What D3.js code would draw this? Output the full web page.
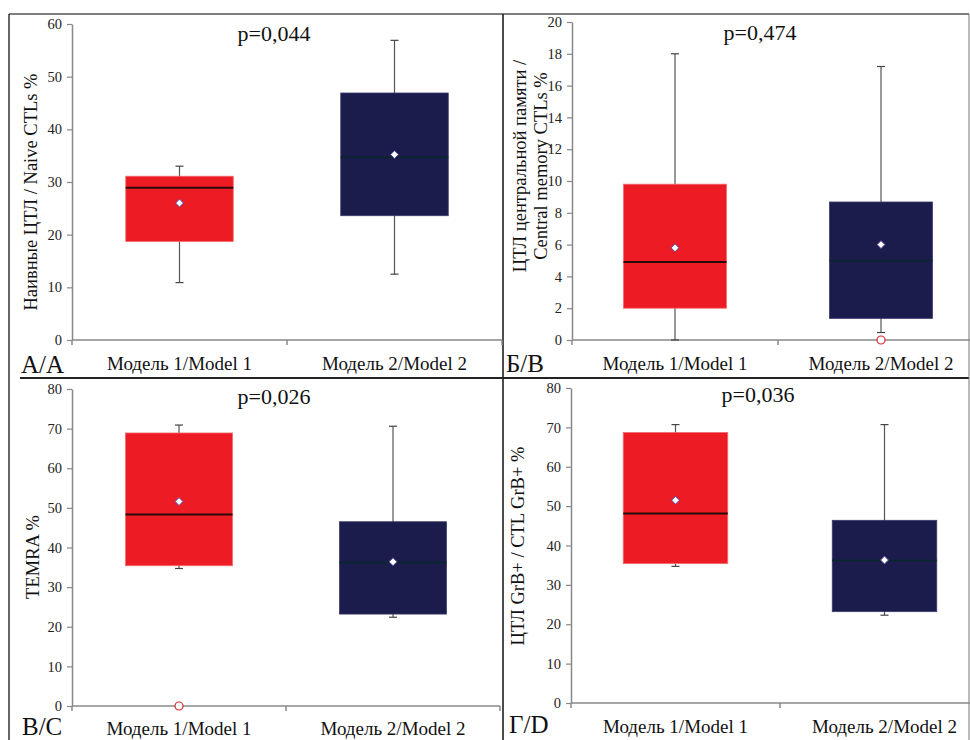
<!DOCTYPE html>
<html><head><meta charset="utf-8">
<script src="https://cdn.jsdelivr.net/npm/d3@7"></script>
<style>body{margin:0;background:#fff}svg{display:block}</style>
</head><body>
<script>
// ---- DATA ----
const categories = ["Модель 1/Model 1", "Модель 2/Model 2"];
const panelIds = ["A", "B", "C", "D"];
const panelLetters = ["А/A", "Б/B", "В/C", "Г/D"];
const pValues = ["p=0,044", "p=0,474", "p=0,026", "p=0,036"];
const yTitles = [["Наивные ЦТЛ / Naive CTLs %"], ["ЦТЛ центральной памяти /", "Central memory CTLs %"], ["TEMRA %"], ["ЦТЛ GrB+ / CTL GrB+ %"]];
const yMax = [60, 20, 80, 80];
const yStep = [10, 2, 10, 10];
// per panel: [model1, model2]
const whiskerLow  = [[10.9, 12.5], [0, 0.47], [34.7, 22.4], [34.7, 22.3]];
const q1Values    = [[18.7, 23.6], [2.0, 1.36], [35.4, 23.2], [35.4, 23.2]];
const medianValues= [[28.9, 34.7], [4.9, 5.0], [48.3, 36.2], [48.1, 36.2]];
const q3Values    = [[31.1, 46.9], [9.8, 8.68], [68.9, 46.5], [68.7, 46.4]];
const whiskerHigh = [[33.0, 56.9], [18.0, 17.2], [70.9, 70.6], [70.7, 70.7]];
const meanValues  = [[26.0, 35.2], [5.8, 6.0], [51.6, 36.4], [51.5, 36.3]];
const outliers    = [[[], []], [[], [0]], [[0], []], [[], []]];
const boxColors = ["#ed1c24", "#1c1c4c"];
const medianColors = ["#2a0b0b", "#0b2530"];

// ---- LAYOUT ----
const layout = [
  {x0: 72, x1: 502, yTop: 24, yBot: 340, titleX: [31], titleY: 192, pX: 274, pY: 41, catY: 370, letX: 21, letY: 373},
  {x0: 572, x1: 984, yTop: 22, yBot: 340, titleX: [520, 541], titleY: 166, pX: 760, pY: 40, catY: 370, letX: 506, letY: 372},
  {x0: 72, x1: 500, yTop: 389, yBot: 706, titleX: [33], titleY: 557, pX: 274, pY: 404, catY: 735, letX: 22, letY: 735},
  {x0: 571, x1: 989, yTop: 388, yBot: 703, titleX: [518], titleY: 546, pX: 758, pY: 402, catY: 733, letX: 509, letY: 733}
];

const W = 970, H = 740;
const FONT = "Liberation Serif";
const svg = d3.select("body").append("svg").attr("width", W).attr("height", H)
  .attr("font-family", FONT);

// frame lines
const frame = svg.append("g").attr("stroke", "#333").attr("fill", "none");
frame.append("line").attr("x1", 9).attr("x2", 969).attr("y1", 14).attr("y2", 14).attr("stroke-width", 1.5).attr("stroke", "#555");
frame.append("line").attr("x1", 9).attr("x2", 9).attr("y1", 14).attr("y2", 740).attr("stroke-width", 1.5);
frame.append("line").attr("x1", 503).attr("x2", 503).attr("y1", 14).attr("y2", 740).attr("stroke-width", 1.5).attr("stroke", "#111");
frame.append("line").attr("x1", 20).attr("x2", 969).attr("y1", 378).attr("y2", 378).attr("stroke-width", 2).attr("stroke", "#222");
frame.append("line").attr("x1", 969).attr("x2", 969).attr("y1", 14).attr("y2", 740).attr("stroke-width", 1).attr("stroke", "#777");

panelIds.forEach((id, i) => {
  const L = layout[i];
  const g = svg.append("g").attr("class", "panel-" + id);
  const y = d3.scaleLinear().domain([0, yMax[i]]).range([L.yBot, L.yTop]);
  const x = d3.scaleBand().domain(categories).range([L.x0, L.x1]).padding(0);
  const bw = x.bandwidth() * 0.5;

  // y axis
  const ticks = d3.range(0, yMax[i] + 0.001, yStep[i]);
  const ya = g.append("g").attr("transform", `translate(${L.x0},0)`)
    .call(d3.axisLeft(y).tickValues(ticks).tickSize(5).tickSizeOuter(0).tickPadding(5).tickFormat(d3.format("d")));
  ya.attr("font-family", FONT);
  ya.select(".domain").attr("stroke", "#888").attr("stroke-width", 1.5);
  ya.selectAll(".tick line").attr("stroke", "#888").attr("stroke-width", 1.2);
  ya.selectAll(".tick text").attr("font-family", FONT).attr("font-size", 14.5).attr("fill", "#222");

  // x axis (band boundary ticks)
  const bounds = [L.x0, L.x0 + x.step(), L.x0 + 2 * x.step()];
  g.append("line").attr("x1", L.x0).attr("x2", L.x1).attr("y1", L.yBot).attr("y2", L.yBot)
    .attr("stroke", "#888").attr("stroke-width", 1.5);
  g.selectAll(".xtick").data(bounds).join("line").attr("class", "xtick")
    .attr("x1", d => d).attr("x2", d => d).attr("y1", L.yBot).attr("y2", L.yBot + 5)
    .attr("stroke", "#888").attr("stroke-width", 1.5);
  g.selectAll(".cat").data(categories).join("text").attr("class", "cat")
    .attr("x", d => x(d) + x.bandwidth() / 2).attr("y", L.catY)
    .attr("text-anchor", "middle").attr("font-family", FONT).attr("font-size", 19).attr("fill", "#111").text(d => d);

  // boxes
  categories.forEach((c, j) => {
    const cx = x(c) + x.bandwidth() / 2;
    const bg = g.append("g");
    bg.append("line").attr("x1", cx).attr("x2", cx).attr("y1", y(whiskerLow[i][j])).attr("y2", y(whiskerHigh[i][j]))
      .attr("stroke", "#555").attr("stroke-width", 1.2);
    [whiskerLow[i][j], whiskerHigh[i][j]].forEach(v => {
      bg.append("line").attr("x1", cx - 4).attr("x2", cx + 4).attr("y1", y(v)).attr("y2", y(v))
        .attr("stroke", "#444").attr("stroke-width", 1.2);
    });
    bg.append("rect").attr("x", cx - bw / 2).attr("width", bw)
      .attr("y", y(q3Values[i][j])).attr("height", y(q1Values[i][j]) - y(q3Values[i][j]))
      .attr("fill", boxColors[j]).attr("stroke", j === 0 ? "#f26a6e" : "#3b3b6b").attr("stroke-width", 0.8);
    bg.append("line").attr("x1", cx - bw / 2).attr("x2", cx + bw / 2)
      .attr("y1", y(medianValues[i][j])).attr("y2", y(medianValues[i][j]))
      .attr("stroke", medianColors[j]).attr("stroke-width", 2);
    const my = y(meanValues[i][j]);
    bg.append("path").attr("d", d3.symbol(d3.symbolDiamond2 || d3.symbolDiamond, 40)())
      .attr("transform", `translate(${cx},${my})`)
      .attr("fill", "#fff").attr("stroke", "#5040a0").attr("stroke-width", 1);
    outliers[i][j].forEach(v => {
      bg.append("circle").attr("cx", cx).attr("cy", y(v)).attr("r", 4)
        .attr("fill", "#fff").attr("stroke", "#d9262c").attr("stroke-width", 1.2);
    });
  });

  // p-value
  g.append("text").attr("x", L.pX).attr("y", L.pY).attr("text-anchor", "middle")
    .attr("font-family", FONT).attr("font-size", 22).attr("fill", "#111").text(pValues[i]);

  // y title
  yTitles[i].forEach((t, k) => {
    g.append("text").attr("transform", `translate(${L.titleX[k]},${L.titleY}) rotate(-90)`)
      .attr("text-anchor", "middle").attr("dominant-baseline", "central")
      .attr("font-family", FONT).attr("font-size", 18.5).attr("fill", "#111").text(t);
  });

  // panel letter
  g.append("text").attr("x", L.letX).attr("y", L.letY).attr("font-family", FONT)
    .attr("font-size", 25).attr("fill", "#111").text(panelLetters[i]);
});
</script>
</body></html>
